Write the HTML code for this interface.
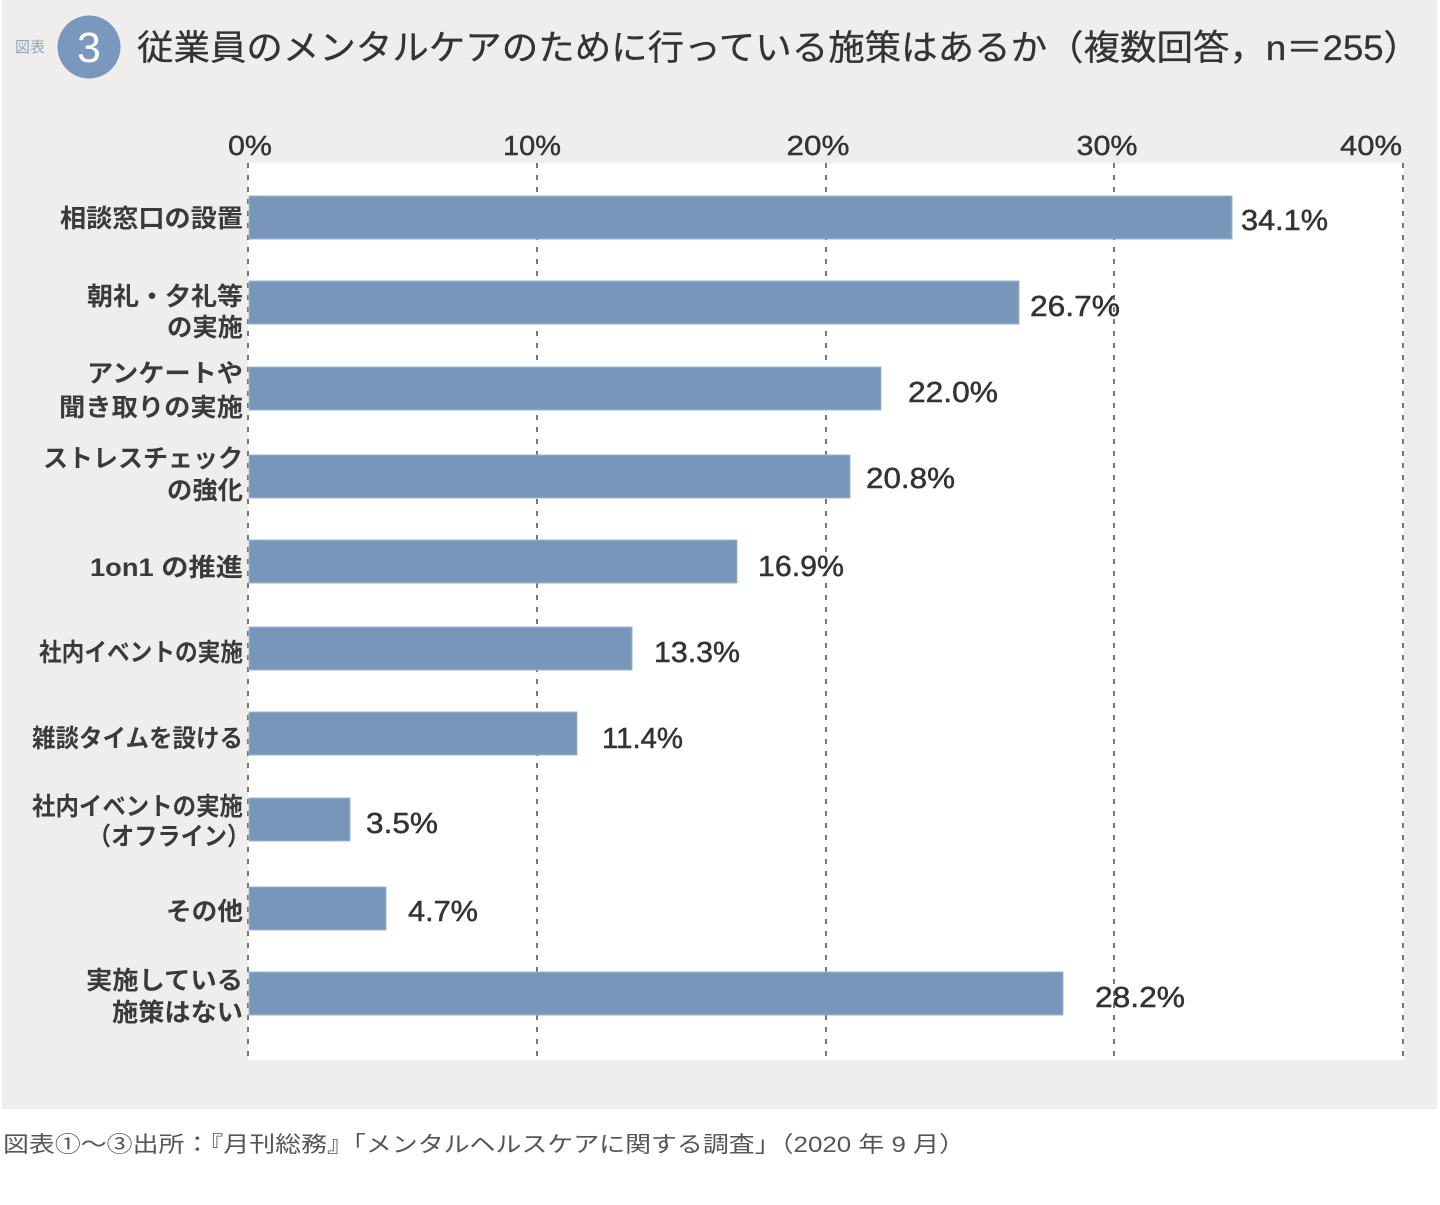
<!DOCTYPE html>
<html><head><meta charset="utf-8"><style>
html,body{margin:0;padding:0;background:#fff;}
svg{display:block;}
</style></head><body>
<svg width="1440" height="1205" viewBox="0 0 1440 1205" xmlns="http://www.w3.org/2000/svg">
<rect x="2" y="0" width="1435" height="1109" fill="#efeeec"/>
<rect x="248" y="163" width="1156" height="897" fill="#ffffff"/>
<!-- header -->
<text x="15" y="52" font-family="Liberation Sans, Noto Sans CJK JP, sans-serif" font-size="15" fill="#8ea4c4" textLength="30" lengthAdjust="spacingAndGlyphs">図表</text>
<circle cx="89" cy="47" r="31.5" fill="#7a97bd"/>
<text x="89" y="62" text-anchor="middle" font-family="Liberation Sans, sans-serif" font-size="43" fill="#ffffff">3</text>
<text x="137" y="60" font-family="Liberation Sans, Noto Sans CJK JP, sans-serif" font-size="35" fill="#333" stroke="#333" stroke-width="0.3" textLength="1283" lengthAdjust="spacingAndGlyphs">従業員のメンタルケアのために行っている施策はあるか（複数回答，n＝255）</text>
<!-- tick labels -->
<g font-family="Liberation Sans, sans-serif" font-size="28" fill="#333" stroke="#333" stroke-width="0.4" text-anchor="middle">
<text x="250" y="155" textLength="44" lengthAdjust="spacingAndGlyphs">0%</text>
<text x="532" y="155" textLength="58" lengthAdjust="spacingAndGlyphs">10%</text>
<text x="818" y="155" textLength="63" lengthAdjust="spacingAndGlyphs">20%</text>
<text x="1107" y="155" textLength="61" lengthAdjust="spacingAndGlyphs">30%</text>
<text x="1371" y="155" textLength="62" lengthAdjust="spacingAndGlyphs">40%</text>
</g>
<!-- grid -->
<g stroke="#777" stroke-width="2" stroke-dasharray="5 7">
<line x1="248" y1="163" x2="248" y2="1060"/>
<line x1="537" y1="163" x2="537" y2="1060"/>
<line x1="826" y1="163" x2="826" y2="1060"/>
<line x1="1114" y1="163" x2="1114" y2="1060"/>
<line x1="1403" y1="163" x2="1403" y2="1060"/>
</g>
<!-- bars -->
<g fill="#7896b9" stroke="#9fb4cf" stroke-width="1">
<rect x="249" y="196" width="983" height="43"/>
<rect x="249" y="281" width="770" height="43"/>
<rect x="249" y="367" width="632" height="43"/>
<rect x="249" y="455" width="601" height="43"/>
<rect x="249" y="540" width="488" height="43"/>
<rect x="249" y="627" width="383" height="43"/>
<rect x="249" y="712" width="328" height="43"/>
<rect x="249" y="798" width="101" height="43"/>
<rect x="249" y="887" width="137" height="43"/>
<rect x="249" y="972" width="814" height="43"/>
</g>
<!-- value labels -->
<g font-family="Liberation Sans, sans-serif" font-size="29" fill="#333" stroke="#333" stroke-width="0.5">
<text x="1241" y="230" textLength="87" lengthAdjust="spacingAndGlyphs">34.1%</text>
<text x="1030" y="316" textLength="90" lengthAdjust="spacingAndGlyphs">26.7%</text>
<text x="908" y="402" textLength="90" lengthAdjust="spacingAndGlyphs">22.0%</text>
<text x="866" y="488" textLength="89" lengthAdjust="spacingAndGlyphs">20.8%</text>
<text x="758" y="576" textLength="86" lengthAdjust="spacingAndGlyphs">16.9%</text>
<text x="654" y="662" textLength="86" lengthAdjust="spacingAndGlyphs">13.3%</text>
<text x="602" y="748" textLength="81" lengthAdjust="spacingAndGlyphs">11.4%</text>
<text x="366" y="833" textLength="72" lengthAdjust="spacingAndGlyphs">3.5%</text>
<text x="408" y="921" textLength="70" lengthAdjust="spacingAndGlyphs">4.7%</text>
<text x="1095" y="1007" textLength="90" lengthAdjust="spacingAndGlyphs">28.2%</text>
</g>
<!-- category labels -->
<g font-family="Liberation Sans, Noto Sans CJK JP, sans-serif" font-size="25" font-weight="bold" fill="#3a3a3a" text-anchor="end">
<text x="243" y="227" textLength="183" lengthAdjust="spacingAndGlyphs">相談窓口の設置</text>
<text x="243" y="305" textLength="156" lengthAdjust="spacingAndGlyphs">朝礼・夕礼等</text>
<text x="243" y="336" textLength="76" lengthAdjust="spacingAndGlyphs">の実施</text>
<text x="243" y="382" textLength="156" lengthAdjust="spacingAndGlyphs">アンケートや</text>
<text x="243" y="416" textLength="184" lengthAdjust="spacingAndGlyphs">聞き取りの実施</text>
<text x="243" y="467" textLength="200" lengthAdjust="spacingAndGlyphs">ストレスチェック</text>
<text x="243" y="499" textLength="76" lengthAdjust="spacingAndGlyphs">の強化</text>
<text x="243" y="576" textLength="153" lengthAdjust="spacingAndGlyphs">1on1 の推進</text>
<text x="243" y="661" textLength="204" lengthAdjust="spacingAndGlyphs">社内イベントの実施</text>
<text x="243" y="747" textLength="211" lengthAdjust="spacingAndGlyphs">雑談タイムを設ける</text>
<text x="243" y="815" textLength="211" lengthAdjust="spacingAndGlyphs">社内イベントの実施</text>
<text x="250" y="845" textLength="162" lengthAdjust="spacingAndGlyphs">（オフライン）</text>
<text x="243" y="920" textLength="77" lengthAdjust="spacingAndGlyphs">その他</text>
<text x="243" y="989" textLength="157" lengthAdjust="spacingAndGlyphs">実施している</text>
<text x="243" y="1021" textLength="131" lengthAdjust="spacingAndGlyphs">施策はない</text>
</g>
<!-- footer -->
<text x="3" y="1152" font-family="Liberation Sans, Noto Sans CJK JP, sans-serif" font-size="22" fill="#555" textLength="962" lengthAdjust="spacingAndGlyphs">図表①〜③出所：『月刊総務』「メンタルヘルスケアに関する調査」（2020 年 9 月）</text>
</svg>
</body></html>
